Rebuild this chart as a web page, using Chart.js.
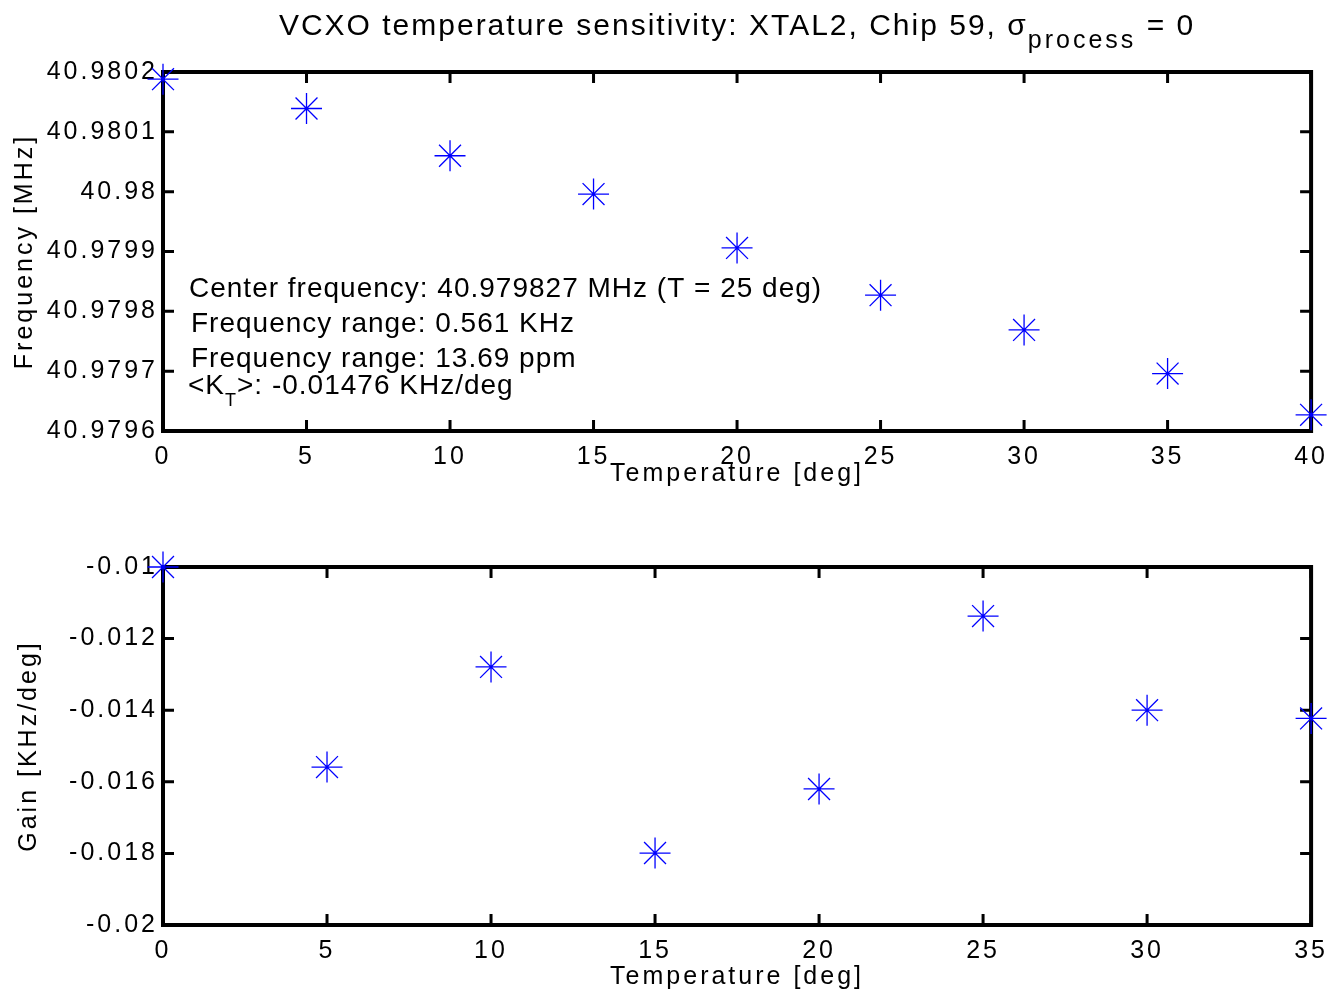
<!DOCTYPE html>
<html>
<head>
<meta charset="utf-8">
<script src="https://cdn.jsdelivr.net/npm/chart.js@4.4.0/dist/chart.umd.min.js"></script>
<style>
  body { margin: 0; background: #fff; }
  #wrap { position: relative; width: 1336px; height: 1001px; }
  canvas { position: absolute; left: 0; }
  #freqChart { top: 0; }
  #gainChart { top: 501px; }
</style>
</head>
<body>
<div id="wrap">
  <canvas id="freqChart" width="1336" height="501"></canvas>
  <canvas id="gainChart" width="1336" height="500"></canvas>
</div>
<script>
// данные
const temps = [0, 5, 10, 15, 20, 25, 30, 35, 40];
const freqMHz = [40.980188, 40.980139, 40.980060, 40.979996, 40.979906, 40.979827, 40.979769, 40.979696, 40.979627];
const gainTemps = [0, 5, 10, 15, 20, 25, 30, 35];
const gainKHz = [-0.0100, -0.01559, -0.01279, -0.01799, -0.01620, -0.01137, -0.01400, -0.01423];

const freqTicks = [40.9796, 40.9797, 40.9798, 40.9799, 40.98, 40.9801, 40.9802];
const gainTicks = [-0.02, -0.018, -0.016, -0.014, -0.012, -0.01];
const tempTicksTop = [0, 5, 10, 15, 20, 25, 30, 35, 40];
const tempTicksBottom = [0, 5, 10, 15, 20, 25, 30, 35];

const titleParts = ['VCXO temperature sensitivity: XTAL2, Chip 59, σ', 'process', ' = 0'];
const infoLines = ['Center frequency: 40.979827 MHz (T = 25 deg)', 'Frequency range: 0.561 KHz', 'Frequency range: 13.69 ppm'];
const ktParts = ['<K', 'T', '>: -0.01476 KHz/deg'];

const FONT = "'Liberation Sans', Arial, Helvetica, sans-serif";
Chart.defaults.font.family = FONT;
Chart.defaults.font.size = 25;
Chart.defaults.color = '#000';

// рамка и внутренние засечки как в MATLAB
const framePlugin = {
    id: 'frame',
    beforeDraw(chart) {
        chart.ctx.letterSpacing = '3px';
    },
    beforeDatasetsDraw(chart) {
        const {ctx, chartArea: a, scales: {x, y}} = chart;
        ctx.save();
        ctx.strokeStyle = '#000';
        ctx.lineWidth = 3;
        ctx.beginPath();
        x.ticks.forEach(t => {
            const px = x.getPixelForValue(t.value);
            ctx.moveTo(px, a.bottom); ctx.lineTo(px, a.bottom - 11);
            ctx.moveTo(px, a.top); ctx.lineTo(px, a.top + 11);
        });
        y.ticks.forEach(t => {
            const py = y.getPixelForValue(t.value);
            ctx.moveTo(a.left, py); ctx.lineTo(a.left + 11, py);
            ctx.moveTo(a.right, py); ctx.lineTo(a.right - 11, py);
        });
        ctx.stroke();
        ctx.lineWidth = 4;
        ctx.strokeRect(a.left, a.top, a.right - a.left, a.bottom - a.top);
        ctx.restore();
    }
};

// заголовок и подписи на верхнем графике
const textPlugin = {
    id: 'texts',
    afterDraw(chart) {
        const {ctx, chartArea: a} = chart;
        ctx.save();
        ctx.fillStyle = '#000';
        ctx.textAlign = 'left';
        ctx.textBaseline = 'alphabetic';

        // заголовок с индексом
        ctx.letterSpacing = '2px';
        const mainFont = '30px ' + FONT;
        const subFont = '25px ' + FONT;
        ctx.font = mainFont;
        const w0 = ctx.measureText(titleParts[0]).width;
        const w2 = ctx.measureText(titleParts[2]).width;
        ctx.font = subFont;
        ctx.letterSpacing = '3px';
        const w1 = ctx.measureText(titleParts[1]).width;
        let tx = (a.left + a.right) / 2 - (w0 + w1 + w2) / 2;
        ctx.letterSpacing = '2px';
        ctx.font = mainFont;
        ctx.fillText(titleParts[0], tx, 35);
        tx += w0;
        ctx.font = subFont;
        ctx.letterSpacing = '3px';
        ctx.fillText(titleParts[1], tx, 48);
        tx += w1;
        ctx.font = mainFont;
        ctx.letterSpacing = '2px';
        ctx.fillText(titleParts[2], tx, 35);

        // текстовые подписи внутри графика
        ctx.font = '28px ' + FONT;
        ctx.letterSpacing = '1px';
        ctx.fillText(infoLines[0], a.left + 26, 297);
        ctx.fillText(infoLines[1], a.left + 28, 332);
        ctx.fillText(infoLines[2], a.left + 28, 367);
        let kx = a.left + 25;
        ctx.fillText(ktParts[0], kx, 394);
        kx += ctx.measureText(ktParts[0]).width;
        ctx.font = '18px ' + FONT;
        ctx.fillText(ktParts[1], kx, 406);
        kx += ctx.measureText(ktParts[1]).width;
        ctx.font = '28px ' + FONT;
        ctx.fillText(ktParts[2], kx, 394);
        ctx.restore();
    }
};

function fmt(v) {
    return String(+v.toFixed(6));
}

function makeConfig(xs, ys, xTicks, yTicks, yTitle, box) {
    return {
        type: 'scatter',
        data: {
            datasets: [{
                data: xs.map((t, i) => ({x: t, y: ys[i]})),
                pointStyle: 'star',
                pointRadius: 15.5,
                pointBorderColor: '#0000ff',
                pointBorderWidth: 1.3,
                borderColor: '#0000ff',
                showLine: false,
                clip: false
            }]
        },
        options: {
            responsive: false,
            animation: false,
            events: [],
            layout: { padding: { top: box.top, right: 23, bottom: 0, left: 0 } },
            plugins: { legend: { display: false }, tooltip: { enabled: false } },
            scales: {
                x: {
                    type: 'linear',
                    min: xTicks[0],
                    max: xTicks[xTicks.length - 1],
                    afterBuildTicks: s => { s.ticks = xTicks.map(v => ({value: v})); },
                    afterFit: s => { s.height = box.xh; },
                    grid: { display: false, drawTicks: false },
                    border: { display: false },
                    ticks: { padding: 11, maxRotation: 0, autoSkip: false, callback: v => fmt(v) },
                    title: { display: true, text: 'Temperature [deg]', padding: { top: 0, bottom: box.xtb } }
                },
                y: {
                    type: 'linear',
                    min: yTicks[0],
                    max: yTicks[yTicks.length - 1],
                    afterBuildTicks: s => { s.ticks = yTicks.map(v => ({value: v})); },
                    afterFit: s => { s.width = 163; },
                    grid: { display: false, drawTicks: false },
                    border: { display: false },
                    ticks: { padding: 5, autoSkip: false, callback: v => fmt(v) },
                    title: { display: true, text: yTitle, padding: { top: box.ytp, bottom: 0 } }
                }
            }
        },
        plugins: box.texts ? [framePlugin, textPlugin] : [framePlugin]
    };
}

new Chart(document.getElementById('freqChart'),
    makeConfig(temps, freqMHz, tempTicksTop, freqTicks, 'Frequency [MHz]',
        { top: 72, xh: 70, xtb: 12, ytp: 10, texts: true }));

new Chart(document.getElementById('gainChart'),
    makeConfig(gainTemps, gainKHz, tempTicksBottom, gainTicks, 'Gain [KHz/deg]',
        { top: 66, xh: 76, xtb: 9, ytp: 14, texts: false }));
</script>
</body>
</html>
